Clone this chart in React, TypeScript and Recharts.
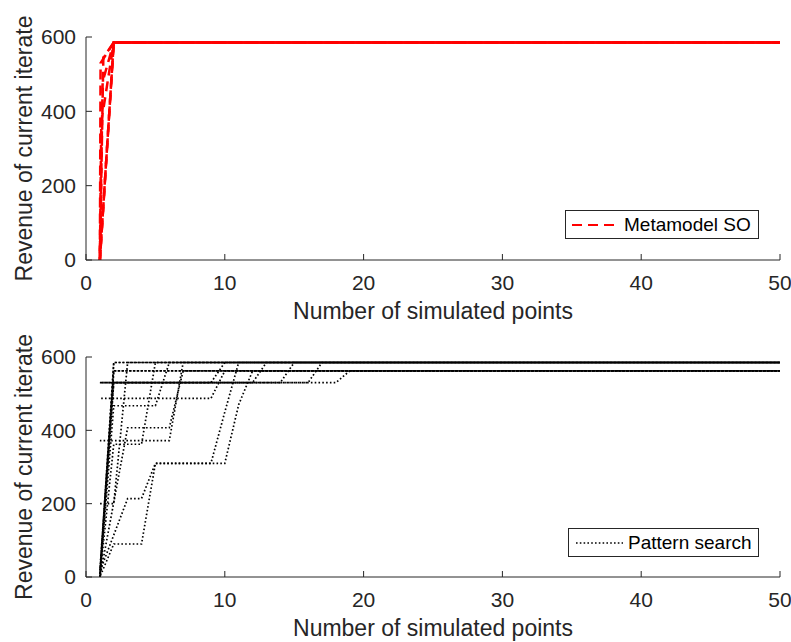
import React from 'react';
import { LineChart, Line, XAxis, YAxis } from 'recharts';

// ---------- data ----------
const xTicks = [0, 10, 20, 30, 40, 50];
const yTicks = [0, 200, 400, 600];

// Metamodel SO runs: [number of simulated points, revenue of current iterate]
const metaRun1 = [[1, 0], [2, 585], [50, 585]];
const metaRun2 = [[1, 0], [2, 585], [50, 585]];
const metaRun3 = [[1, 0], [2, 585], [50, 585]];
const metaRun4 = [[1, 0], [1.1, 370], [2, 585], [50, 585]];
const metaRun5 = [[1, 0], [1.2, 480], [2, 585], [50, 585]];
const metaRun6 = [[1, 0], [1.05, 530], [2, 585], [50, 585]];
const metaRun7 = [[1, 0], [1.25, 545], [2, 585], [50, 585]];
const metaRuns = [metaRun1, metaRun2, metaRun3, metaRun4, metaRun5, metaRun6, metaRun7];

// Pattern search runs
const patRun1 = [[1, 0], [2, 585], [50, 585]];
const patRun2 = [[1, 10], [2, 585], [50, 585]];
const patRun3 = [[1, 0], [2, 562], [50, 562]];
const patRun4 = [[1, 20], [2, 562], [50, 562]];
const patRun5 = [[1, 530], [9, 530], [10, 585], [50, 585]];
const patRun6 = [[1, 0], [2, 530], [12, 530], [13, 585], [50, 585]];
const patRun7 = [[1, 530], [14, 530], [15, 585], [50, 585]];
const patRun8 = [[1, 0], [2, 530], [16, 530], [17, 585], [50, 585]];
const patRun9 = [[1, 530], [18, 530], [19, 562], [50, 562]];
const patRun10 = [[1, 487], [9, 487], [10, 562], [50, 562]];
const patRun11 = [[1, 0], [2, 467], [5, 467], [6, 585], [50, 585]];
const patRun12 = [[1, 372], [6, 372], [7, 585], [50, 585]];
const patRun13 = [[1, 0], [3, 407], [6, 407], [7, 562], [50, 562]];
const patRun14 = [[1, 0], [2, 362], [4, 362], [5, 585], [50, 585]];
const patRun15 = [[1, 0], [2, 90], [4, 90], [5, 310], [9, 310], [10, 450], [11, 585], [50, 585]];
const patRun16 = [[1, 15], [3, 214], [4, 214], [5, 310], [10, 310], [11, 470], [12, 562], [50, 562]];
const patRun17 = [[1, 200], [2, 200], [3, 585], [50, 585]];
const patternRuns = [
  patRun1, patRun2, patRun3, patRun4, patRun5, patRun6, patRun7, patRun8, patRun9,
  patRun10, patRun11, patRun12, patRun13, patRun14, patRun15, patRun16, patRun17,
];

const toPoints = (run: number[][]) => run.map(([x, y]) => ({ x, y }));

// ---------- style ----------
const AXIS = '#262626';
const FONT = '"Liberation Sans", Arial, Helvetica, sans-serif';
const TICK = { fontSize: 21, fill: AXIS, fontFamily: FONT };

const YLabel = (props: any) => {
  const vb = props.viewBox || {};
  const cx = 24;
  const cy = vb.y + vb.height / 2;
  return (
    <text
      x={cx}
      y={cy}
      transform={`rotate(-90, ${cx}, ${cy})`}
      textAnchor="middle"
      dominantBaseline="central"
      fontSize={23}
      fill={AXIS}
      fontFamily={FONT}
    >
      Revenue of current iterate
    </text>
  );
};

interface PanelProps {
  runs: number[][][];
  stroke: string;
  dash: string;
  strokeWidth: number;
  height: number;
  marginTop: number;
  xHeight: number;
  labelOffset: number;
  prefix: string;
  dashStep: number;
}

function Panel({ runs, stroke, dash, strokeWidth, height, marginTop, xHeight, labelOffset, prefix, dashStep }: PanelProps) {
  return (
    <LineChart width={791} height={height} margin={{ top: marginTop, right: 11, bottom: 0, left: 0 }}>
      <XAxis
        type="number"
        dataKey="x"
        domain={[0, 50]}
        ticks={xTicks}
        interval={0}
        allowDataOverflow
        height={xHeight}
        tickSize={-6}
        tickMargin={21}
        stroke={AXIS}
        tick={TICK}
        label={{
          value: 'Number of simulated points',
          position: 'insideBottom',
          offset: labelOffset,
          fontSize: 23,
          fill: AXIS,
          fontFamily: FONT,
        }}
      />
      <YAxis
        type="number"
        domain={[0, 600]}
        ticks={yTicks}
        interval={0}
        allowDataOverflow
        width={86}
        tickSize={-6}
        tickMargin={16}
        stroke={AXIS}
        tick={TICK}
        label={<YLabel />}
      />
      {runs.map((run, i) => (
        <Line
          key={prefix + i}
          data={toPoints(run)}
          dataKey="y"
          type="linear"
          stroke={stroke}
          strokeWidth={strokeWidth}
          strokeDasharray={dash}
          strokeDashoffset={i * dashStep}
          dot={false}
          activeDot={false}
          isAnimationActive={false}
        />
      ))}
    </LineChart>
  );
}

function LegendBox({ left, top, width, sampleLeft, sampleWidth, textLeft, label, stroke, dash, strokeWidth }: any) {
  return (
    <div
      style={{
        position: 'absolute',
        left,
        top,
        width,
        height: 29,
        border: `1px solid ${AXIS}`,
        background: '#fff',
        boxSizing: 'border-box',
        fontFamily: FONT,
      }}
    >
      <svg
        width={sampleWidth}
        height={6}
        style={{ position: 'absolute', left: sampleLeft, top: 11 }}
      >
        <line x1={0} y1={3} x2={sampleWidth} y2={3} stroke={stroke} strokeWidth={strokeWidth} strokeDasharray={dash} />
      </svg>
      <span
        style={{
          position: 'absolute',
          left: textLeft,
          top: 0,
          lineHeight: '27px',
          fontSize: 19,
          color: '#000',
          whiteSpace: 'nowrap',
        }}
      >
        {label}
      </span>
    </div>
  );
}

export default function App() {
  return (
    <div style={{ position: 'absolute', left: 0, top: 0, width: 791, height: 642, background: '#fff' }}>
      <div style={{ position: 'absolute', left: 0, top: 0 }}>
        <Panel runs={metaRuns} stroke="#ff0000" dash="10 6" strokeWidth={2.5} height={330} marginTop={37} xHeight={70} labelOffset={11} prefix="m" dashStep={2.3} />
      </div>
      <div style={{ position: 'absolute', left: 0, top: 321 }}>
        <Panel runs={patternRuns} stroke="#000000" dash="1.6 2.2" strokeWidth={1.7} height={321} marginTop={36} xHeight={65} labelOffset={6} prefix="p" dashStep={0.7} />
      </div>
      <LegendBox left={565} top={210} width={194} sampleLeft={6} sampleWidth={44} textLeft={58} label="Metamodel SO" stroke="#ff0000" dash="10 6" strokeWidth={2} />
      <LegendBox left={568} top={528} width={191} sampleLeft={7} sampleWidth={47} textLeft={59} label="Pattern search" stroke="#000" dash="1.6 2.2" strokeWidth={1.6} />
    </div>
  );
}
